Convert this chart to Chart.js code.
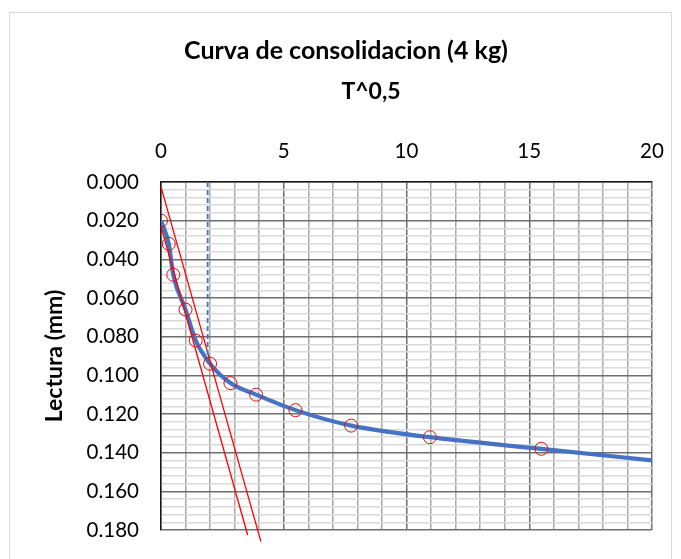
<!DOCTYPE html>
<html><head><meta charset="utf-8">
<script src="https://cdn.jsdelivr.net/npm/chart.js@4"></script>
<style>
html,body{margin:0;padding:0;background:#fff;}
#wrap{position:relative;width:681px;height:559px;overflow:hidden;}
#frame{position:absolute;left:9px;top:12px;width:663px;height:600px;border:1px solid #d9d9d9;box-sizing:border-box;}
canvas{position:absolute;left:0;top:0;}
</style></head>
<body><div id="wrap"><div id="frame"></div><canvas id="c" width="681" height="559"></canvas></div>
<script>
// --- data ---
const chartTitle = 'Curva de consolidacion (4 kg)';
const xAxisTitle = 'T^0,5';
const yAxisTitle = 'Lectura (mm)';
const sqrtT   = [0, 0.316, 0.5, 1, 1.414, 2, 2.828, 3.873, 5.477, 7.746, 10.954, 15.492];
const lectura = [0.020, 0.032, 0.048, 0.066, 0.082, 0.094, 0.104, 0.110, 0.118, 0.126, 0.132, 0.138];
const curveX  = [0, 0.316, 0.5, 1, 1.414, 2, 2.828, 3.873, 5.477, 7.746, 10.954, 15.492, 20];
const curveY  = [0.020, 0.032, 0.048, 0.066, 0.082, 0.094, 0.104, 0.110, 0.118, 0.126, 0.132, 0.138, 0.144];
const line1X  = [0, 3.53];
const line1Y  = [0.023, 0.1826];
const line2X  = [0, 4.07];
const line2Y  = [0.0025, 0.186];
const d90X    = [1.9, 1.9];
const d90Y    = [0, 0.093];
const xTickLabels = [0, 5, 10, 15, 20];
const yTickLabels = [0, 0.02, 0.04, 0.06, 0.08, 0.10, 0.12, 0.14, 0.16, 0.18];

const pts = (xs, ys) => xs.map((x, i) => ({x: x, y: ys[i]}));
const isXLabel = v => xTickLabels.some(t => Math.abs(t - v) < 1e-9);
const isYLabel = v => yTickLabels.some(t => Math.abs(t - v) < 1e-9);

const titlePlugin = {
  id: 'titles',
  afterDraw(chart) {
    const c = chart.ctx;
    c.save();
    c.fillStyle = '#000';
    c.textAlign = 'center';
    c.textBaseline = 'alphabetic';
    c.font = 'bold 25px Lato';
    c.fillText(chartTitle, 346, 59);
    c.font = 'bold 23px Lato';
    c.fillText(xAxisTitle, 371, 99);
    c.restore();
  }
};

new Chart(document.getElementById('c'), {
  type: 'scatter',
  data: {
    datasets: [
      {label: 'Lectura', data: pts(sqrtT, lectura), showLine: false,
       pointRadius: 6.5, pointBorderColor: '#d81010', pointBackgroundColor: 'rgba(0,0,0,0)', pointBorderWidth: 1},
      {label: 'd90', data: pts(d90X, d90Y), showLine: true, borderColor: '#4472C4', borderWidth: 1.8,
       borderDash: [5, 3], pointRadius: 0},
      {label: 'Recta 1', data: pts(line1X, line1Y), showLine: true, borderColor: '#ff0000', borderWidth: 1.3,
       pointRadius: 0, clip: false},
      {label: 'Recta 2', data: pts(line2X, line2Y), showLine: true, borderColor: '#ff0000', borderWidth: 1.3,
       pointRadius: 0, clip: false},
      {label: 'Curva', data: pts(curveX, curveY), showLine: true, borderColor: '#4472C4', borderWidth: 4.2,
       pointRadius: 0, cubicInterpolationMode: 'monotone'}
    ]
  },
  options: {
    responsive: false,
    animation: false,
    layout: {padding: {left: 0, right: 29, top: 0, bottom: 29}},
    plugins: {legend: {display: false}, tooltip: {enabled: false}, title: {display: false}},
    scales: {
      x: {
        type: 'linear', position: 'top', min: 0, max: 20,
        afterFit(s) { s.height = 182; s.paddingLeft = 0; s.paddingRight = 0; },
        ticks: {stepSize: 1, autoSkip: false, maxRotation: 0, padding: 18, color: '#000',
                font: {family: 'Lato', size: 20.5},
                callback: v => isXLabel(v) ? String(v) : ''},
        grid: {drawTicks: false,
               color: c => (c.tick && isXLabel(c.tick.value)) ? '#6e6e6e' : '#a8a8a8',
               lineWidth: 1.5},
        border: {color: '#1a1a1a', width: 1.5}
      },
      y: {
        type: 'linear', reverse: true, min: 0, max: 0.18,
        afterFit(s) { s.width = 161; s.paddingTop = 0; s.paddingBottom = 0; },
        ticks: {stepSize: 0.004, autoSkip: false, padding: 22, color: '#000',
                font: {family: 'Lato', size: 20.5},
                callback: v => isYLabel(v) ? v.toFixed(3) : ''},
        grid: {drawTicks: false,
               color: c => (c.tick && isYLabel(c.tick.value)) ? '#6e6e6e' : '#d9d9d9',
               lineWidth: 1.5},
        border: {color: '#1a1a1a', width: 1.5},
        title: {display: true, text: yAxisTitle, color: '#000',
                font: {family: 'Lato', size: 23, weight: 'bold'}, padding: {top: 41, bottom: 0}}
      }
    }
  },
  plugins: [titlePlugin]
});
</script>
</body></html>
